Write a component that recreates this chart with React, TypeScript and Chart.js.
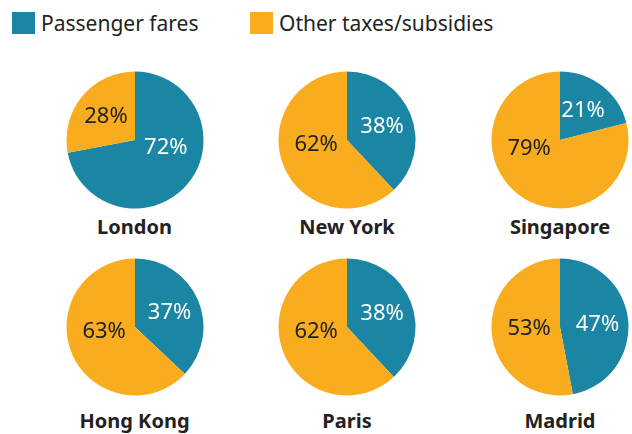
import React, { useEffect, useRef } from "react";
import { Chart, registerables } from "chart.js";

Chart.register(...registerables);

// ---- data ----
const cities = ["London", "New York", "Singapore", "Hong Kong", "Paris", "Madrid"];
const passengerFares = [72, 38, 21, 37, 38, 47];
const otherTaxesSubsidies = [28, 62, 79, 63, 62, 53];
const seriesNames = ["Passenger fares", "Other taxes/subsidies"];

// ---- style ----
const BLUE = "#1A86A3";
const ORANGE = "#F9AD1E";
const DARK = "#222222";
const FONT = "'Noto Sans', 'Open Sans', sans-serif";
const R = 68.5;
const SIZE = 144;
const COL_X = [134.5, 347, 560];
const ROW_Y = [140, 326.5];
const LABEL_Y = [228, 422];

const sliceLabels = {
  id: "sliceLabels",
  afterDatasetsDraw(chart: any) {
    const ctx = chart.ctx;
    const meta = chart.getDatasetMeta(0);
    const values = chart.data.datasets[0].data as number[];
    ctx.save();
    ctx.font = `22px ${FONT}`;
    ctx.textAlign = "center";
    ctx.textBaseline = "middle";
    meta.data.forEach((arc: any, i: number) => {
      const p = arc.getProps(["x", "y", "startAngle", "endAngle", "outerRadius"], true);
      const v = values[i];
      const mid = (p.startAngle + p.endAngle) / 2;
      const c = Math.cos(mid);
      const s = Math.sin(mid);
      let lx: number, ly: number;
      if (v > 50) {
        lx = p.x + Math.sign(c) * 0.45 * p.outerRadius;
        ly = p.y + 0.15 * p.outerRadius * s;
      } else {
        lx = p.x + 0.55 * p.outerRadius * c;
        ly = p.y + 0.55 * p.outerRadius * s;
      }
      ctx.fillStyle = i === 0 ? "#FFFFFF" : DARK;
      ctx.fillText(`${v}%`, lx, ly + 1);
    });
    ctx.restore();
  },
};

function Pie({ idx, cx, cy }: { idx: number; cx: number; cy: number }) {
  const ref = useRef<HTMLCanvasElement | null>(null);
  useEffect(() => {
    if (!ref.current) return;
    const chart = new Chart(ref.current, {
      type: "pie",
      data: {
        labels: seriesNames,
        datasets: [
          {
            data: [passengerFares[idx], otherTaxesSubsidies[idx]],
            backgroundColor: [BLUE, ORANGE],
            borderWidth: 0,
            radius: R,
          } as any,
        ],
      },
      options: {
        responsive: false,
        animation: false,
        events: [],
        layout: { padding: 0 },
        plugins: { legend: { display: false }, tooltip: { enabled: false } },
      },
      plugins: [sliceLabels],
    });
    return () => chart.destroy();
  }, [idx]);
  return (
    <canvas
      ref={ref}
      width={SIZE}
      height={SIZE}
      style={{ position: "absolute", left: cx - SIZE / 2, top: cy - SIZE / 2, width: SIZE, height: SIZE }}
    />
  );
}

export default function App() {
  return (
    <div
      style={{
        position: "fixed",
        left: 0,
        top: 0,
        width: 632,
        height: 434,
        background: "#fff",
        fontFamily: FONT,
        overflow: "hidden",
      }}
    >
      {/* legend */}
      {seriesNames.map((name, i) => (
        <div key={name} style={{ position: "absolute", left: i === 0 ? 12 : 250, top: 12, display: "flex", alignItems: "center", height: 22 }}>
          <div style={{ width: 23, height: 22, background: i === 0 ? BLUE : ORANGE }} />
          <div style={{ marginLeft: 6, fontSize: 21, color: DARK, lineHeight: "22px", whiteSpace: "nowrap" }}>{name}</div>
        </div>
      ))}
      {cities.map((city, i) => {
        const row = Math.floor(i / 3);
        const cx = COL_X[i % 3];
        const cy = ROW_Y[row];
        return (
          <React.Fragment key={city}>
            <Pie idx={i} cx={cx} cy={cy} />
            <div
              style={{
                position: "absolute",
                left: cx - 90,
                width: 180,
                top: LABEL_Y[row] - 13,
                textAlign: "center",
                fontWeight: 700,
                fontSize: 20,
                color: DARK,
                lineHeight: "24px",
              }}
            >
              {city}
            </div>
          </React.Fragment>
        );
      })}
    </div>
  );
}
